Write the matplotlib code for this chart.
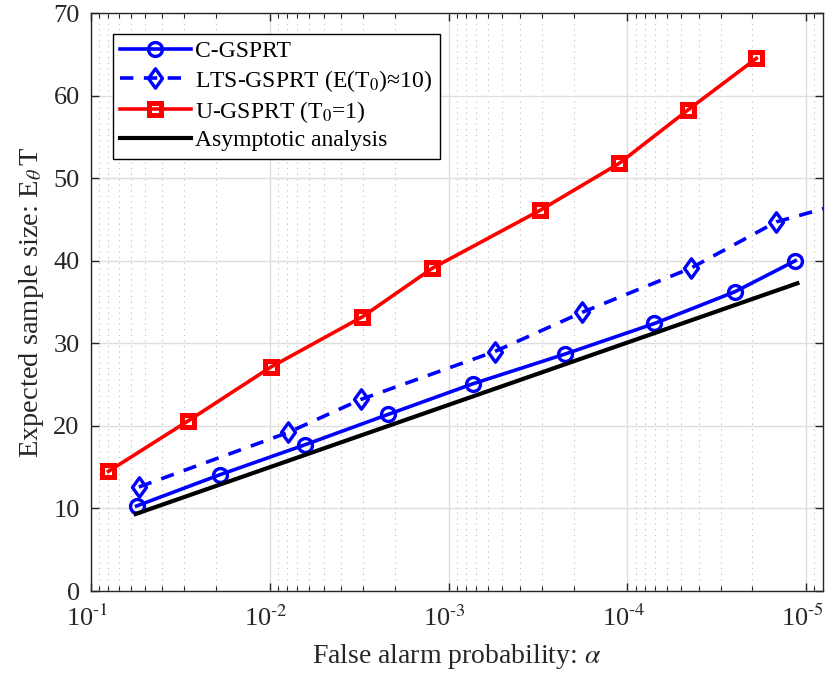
import matplotlib
matplotlib.use("Agg")
import matplotlib.pyplot as plt
import matplotlib.transforms as mtransforms
from matplotlib.path import Path
from matplotlib.ticker import LogLocator, FixedLocator, NullFormatter, FuncFormatter
import numpy as np

plt.rcParams['font.family'] = ['Liberation Serif', 'DejaVu Serif']
plt.rcParams['mathtext.fontset'] = 'stix'

# C-GSPRT
alpha_c = [0.0555, 0.0189, 0.00637, 0.00217, 7.3e-4, 2.23e-4, 7.05e-5, 2.5e-5, 1.15e-5]
ET_c = [10.3, 14.1, 17.7, 21.4, 25.1, 28.7, 32.4, 36.25, 40.0]

# LTS-GSPRT (last point lies past the right edge)
alpha_lts = [0.0539, 0.00789, 0.00309, 5.52e-4, 1.79e-4, 4.42e-5, 1.47e-5, 4.9e-6]
ET_lts = [12.6, 19.2, 23.2, 29.0, 33.75, 39.1, 44.7, 47.6]

# U-GSPRT
alpha_u = [0.0797, 0.0286, 0.00989, 0.00304, 0.00123, 3.08e-4, 1.11e-4, 4.56e-5, 1.9e-5]
ET_u = [14.5, 20.6, 27.1, 33.2, 39.1, 46.1, 51.8, 58.3, 64.5]

# asymptotic analysis
alpha_asym = [0.0562, 1.12e-5]
ET_asym = [9.33, 37.27]

legend_labels = ['C-GSPRT', 'LTS-GSPRT (E(T$_0$)≈10)',
                 'U-GSPRT (T$_0$=1)', 'Asymptotic analysis']

# matlab-ish diamond, a bit wider than matplotlib's thin one
diamond = Path([(0, 1), (0.72, 0), (0, -1), (-0.72, 0), (0, 1)],
               [Path.MOVETO, Path.LINETO, Path.LINETO, Path.LINETO, Path.CLOSEPOLY])


def pow10_label(v, pos):
    e = int(round(np.log10(v)))
    sign = '\\text{-}' if e < 0 else ''
    return '$\\mathregular{10}^{%s%d}$' % (sign, abs(e))


fig = plt.figure(figsize=(8.26, 6.75), dpi=100)
ax = fig.add_axes([0.110, 0.1244, 0.8864, 0.8563])

lw = 2.6
ax.plot(alpha_c, ET_c, '-o', color='#0000ff', lw=lw, ms=10, mew=2.4,
        mfc='none', label=legend_labels[0])
ax.plot(alpha_lts, ET_lts, '--', marker=diamond, color='#0000ff', lw=lw, ms=14,
        mew=2.4, mfc='none', dashes=(3.7, 2.9), label=legend_labels[1])
ax.plot(alpha_u, ET_u, '-s', color='#ff0000', lw=lw, ms=9, mew=3.6,
        mfc='none', label=legend_labels[2])
ax.plot(alpha_asym, ET_asym, '-', color='black', lw=lw + 0.4,
        label=legend_labels[3])

ax.set_xscale('log')
ax.set_xlim(0.1, 8.05e-6)
ax.set_ylim(0, 70)
ax.yaxis.set_major_locator(FixedLocator([0, 10, 20, 30, 40, 50, 60, 70]))
ax.xaxis.set_major_locator(LogLocator(base=10, numticks=10))
ax.xaxis.set_major_formatter(FuncFormatter(pow10_label))
ax.xaxis.set_minor_locator(LogLocator(base=10, subs=range(2, 10), numticks=20))
ax.xaxis.set_minor_formatter(NullFormatter())

ax.grid(True, which='major', color='#dedede', lw=1.0, ls='-')
ax.grid(True, which='minor', axis='x', color='#b8b8b8', lw=0.8, ls=(0, (1, 4)))
ax.set_axisbelow(True)

dark = '#262626'
for s in ax.spines.values():
    s.set_color(dark)
    s.set_linewidth(1.0)
ax.tick_params(which='both', direction='in', top=True, right=True,
               colors=dark, labelsize=19)
ax.tick_params(which='major', length=6, width=1.0)
ax.tick_params(axis='x', which='major', pad=10)
ax.tick_params(axis='y', which='major', pad=8)
ax.tick_params(which='minor', length=3.5, width=0.8)

# nudge x tick labels a few px left so the last one stays inside the figure
shift = mtransforms.ScaledTranslation(-4 / 100, 0, fig.dpi_scale_trans)
for lab in ax.get_xticklabels():
    lab.set_transform(lab.get_transform() + shift)

ax.set_xlabel('False alarm probability: $\\alpha$', fontsize=20, color=dark, labelpad=8)
ax.set_ylabel('Expected sample size: E$_\\theta\\,$T', fontsize=20.5, color=dark, labelpad=5)

leg = ax.legend(loc='upper left', bbox_to_anchor=(0.030, 0.964), borderaxespad=0,
                fontsize=17, frameon=True, fancybox=False, framealpha=1,
                edgecolor='black', handlelength=3.0, borderpad=0.3,
                labelspacing=0.22, handletextpad=0.2)
leg.get_frame().set_linewidth(1.0)

fig.savefig('out.png', dpi=100)
